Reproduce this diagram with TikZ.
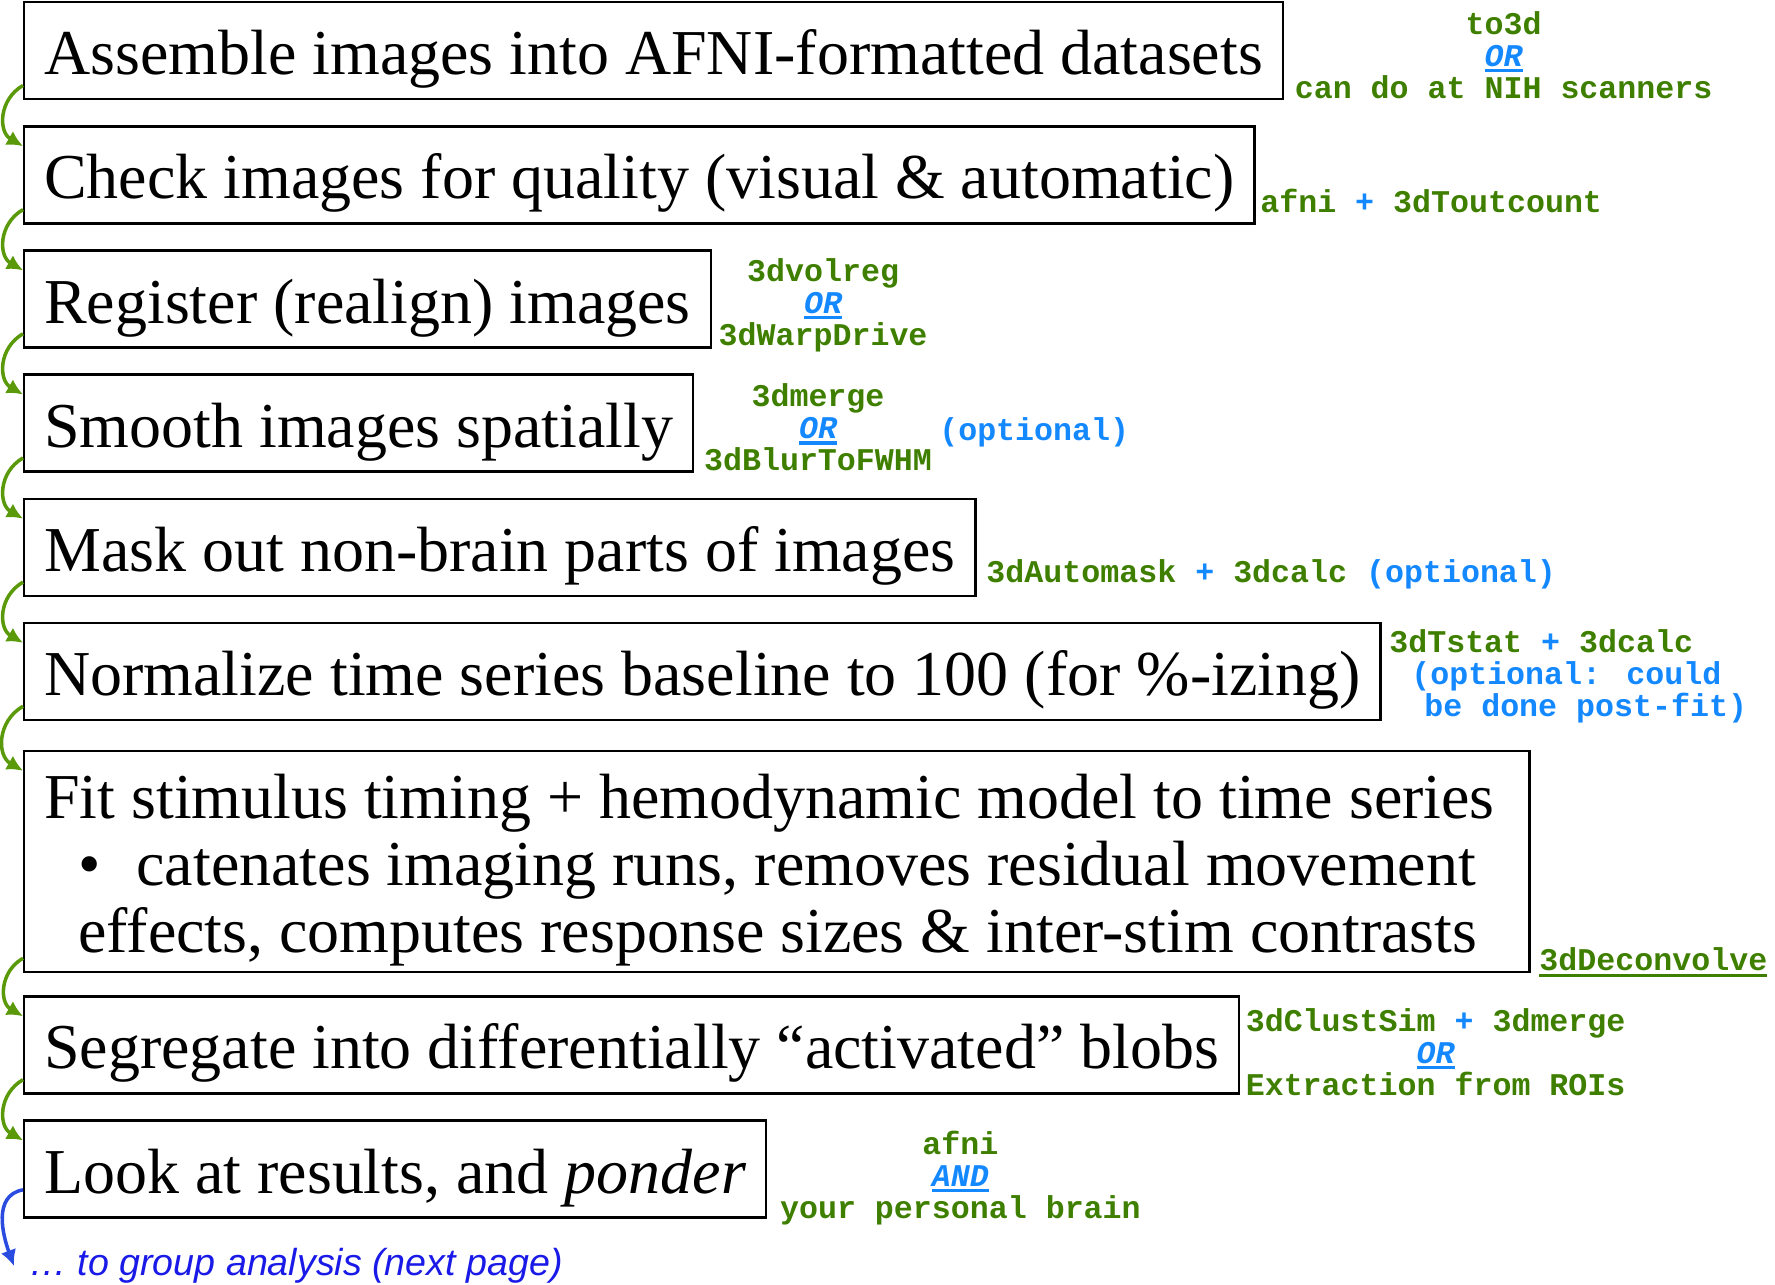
\documentclass[tikz,border=0pt]{standalone}
\usepackage{fontspec}
\setmainfont{Liberation Serif}
\newfontfamily\monofont{Liberation Mono}
\newfontfamily\helvfont{Liberation Sans}
\usepackage{xcolor}
\usepackage{tikz}
\usetikzlibrary{positioning, arrows.meta}
\definecolor{AfniGreen}{HTML}{3F7F00}
\definecolor{AfniBlue}{HTML}{1488FF}
\definecolor{ArrowGreen}{HTML}{5A9A0A}
\definecolor{ArrowBlue}{HTML}{2A4BE0}
\definecolor{LinkBlue}{HTML}{1A1AE8}
\newcommand{\ulword}[1]{\leavevmode\setbox0\hbox{#1}\rlap{\rule[-1.7pt]{\wd0}{0.9pt}}\box0}
\newcommand{\orword}[1]{{\color{AfniBlue}\itshape\ulword{#1}}}
\newcommand{\plus}{{\color{AfniBlue}+}}

\begin{document}
\begin{tikzpicture}[
    stepbox/.style={draw=black, line width=0.7pt, inner xsep=0.2cm, inner ysep=0cm,
      minimum height=0.97cm, text height=0.6cm, text depth=0.12cm,
      font=\fontsize{18.2}{19}\selectfont, align=left},
    toolnote/.style={font=\monofont\bfseries\fontsize{9}{9.1}\selectfont,
      text=AfniGreen, align=center, inner xsep=0.03cm, inner ysep=0.02cm},
    flow/.style={draw=ArrowGreen, line width=1pt, -{Latex[length=1.6mm,width=1.6mm]}}]
  \useasboundingbox (0,0) rectangle (17.75,-12.85);

  % processing steps
  \node[stepbox, anchor=north west] (assemble) at (0.23,-0.01) {Assemble images into AFNI-formatted datasets};
  \node[stepbox, below right=0.247cm and 0cm of assemble.south west] (check) {Check images for quality (visual \& automatic)};
  \node[stepbox, below right=0.247cm and 0cm of check.south west] (register) {Register (realign) images};
  \node[stepbox, below right=0.247cm and 0cm of register.south west] (smooth) {Smooth images spatially};
  \node[stepbox, below right=0.247cm and 0cm of smooth.south west] (mask) {Mask out non-brain parts of images};
  \node[stepbox, below right=0.247cm and 0cm of mask.south west] (normalize) {Normalize time series baseline to 100 (for \%-izing)};
  \node[stepbox, text height=, text depth=, minimum height=2.21cm,
        below right=0.285cm and 0cm of normalize.south west] (fit)
       {\rule{0pt}{0.62cm}Fit stimulus timing + hemodynamic model to time series\hspace*{0.15cm}\\
        \hspace*{0.34cm}\textbullet\hspace{0.36cm}catenates imaging runs, removes residual movement\\
        \hspace*{0.34cm}effects, computes response sizes \& inter-stim contrasts};
  \node[stepbox, below right=0.22cm and 0cm of fit.south west] (segregate) {Segregate into differentially “activated” blobs};
  \node[stepbox, below right=0.247cm and 0cm of segregate.south west] (look) {Look at results, and \textit{ponder}};
  \node[font=\helvfont\itshape\fontsize{10.7}{12}\selectfont, text=LinkBlue, inner sep=0.02cm,
        anchor=west] (nextpage) at (0.27,-12.66) {… to group analysis (next page)};

  % programs for each step
  \node[toolnote, above right=-0.1cm and 0.07cm of assemble.south east] (tools1) {to3d\\\orword{OR}\\can do at NIH scanners\strut};
  \node[toolnote, above right=0cm and 0.01cm of check.south east] (tools2) {afni \plus{} 3dToutcount\strut};
  \node[toolnote, above right=-0.09cm and 0.03cm of register.south east] (tools3) {3dvolreg\\\orword{OR}\\3dWarpDrive\strut};
  \node[toolnote, above right=-0.1cm and 0.06cm of smooth.south east] (tools4) {3dmerge\\\orword{OR}\\3dBlurToFWHM\strut};
  \node[toolnote, text=AfniBlue, right=0cm of tools4] (optional4) {(optional)};
  \node[toolnote, above right=0.02cm and 0.06cm of mask.south east] (tools5) {3dAutomask \plus{} 3dcalc {\color{AfniBlue}(optional)}\strut};
  \node[toolnote, align=left, above right=-0.08cm and 0.04cm of normalize.south east] (tools6)
       {3dTstat \plus{} 3dcalc\\\hspace*{0.22cm}{\color{AfniBlue}(optional: could}\\\hspace*{0.35cm}{\color{AfniBlue}be done post-fit)}\strut};
  \node[toolnote, above right=-0.1cm and 0.05cm of fit.south east] (tools7) {\ulword{3dDeconvolve}\strut};
  \node[toolnote, above right=-0.13cm and 0.02cm of segregate.south east] (tools8) {3dClustSim \plus{} 3dmerge\\\orword{OR}\\Extraction from ROIs\strut};
  \node[toolnote, above right=-0.115cm and 0.09cm of look.south east] (tools9) {afni\\\orword{AND}\\your personal brain\strut};

  % connectors
  \foreach \from/\to in {assemble/check, check/register, register/smooth, smooth/mask,
      mask/normalize, normalize/fit, fit/segregate, segregate/look}
    \draw[flow] ([yshift=0.15cm]\from.south west) to[out=210, in=150, looseness=1.2] ([yshift=-0.21cm]\to.north west);
  \draw[flow, draw=ArrowBlue] ([yshift=0.29cm]look.south west) to[out=190, in=110, looseness=1.05] ([xshift=-0.13cm]nextpage.west);
\end{tikzpicture}
\end{document}
